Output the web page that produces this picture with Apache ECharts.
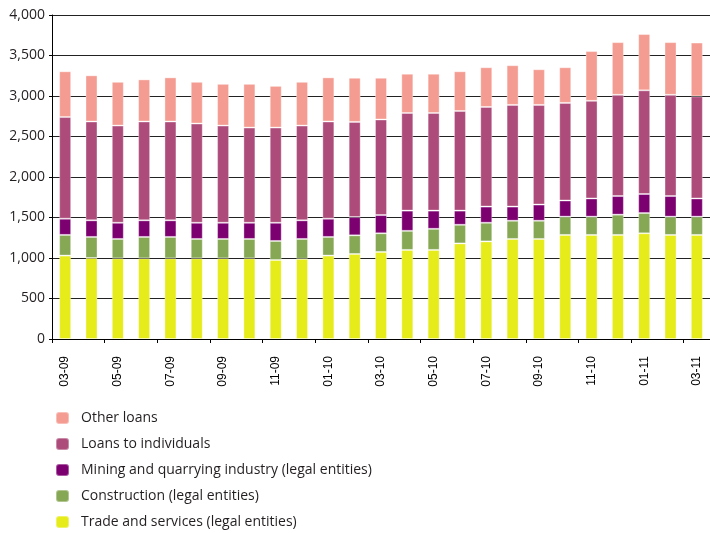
<!DOCTYPE html>
<html>
<head>
<meta charset="utf-8">
<script src="https://cdn.jsdelivr.net/npm/echarts@6/dist/echarts.min.js"></script>
<style>html,body{margin:0;padding:0;background:#fff}#c{width:710px;height:533px}</style>
</head>
<body>
<div id="c"></div>
<script>
var categories = ['03-09','04-09','05-09','06-09','07-09','08-09','09-09','10-09','11-09','12-09','01-10','02-10','03-10','04-10','05-10','06-10','07-10','08-10','09-10','10-10','11-10','12-10','01-11','02-11','03-11'];
var tradeServices = [1030,1000,995,995,995,995,995,995,975,990,1030,1050,1075,1100,1100,1180,1205,1235,1235,1285,1285,1285,1305,1285,1285];
var construction = [255,260,240,265,265,240,240,240,235,245,230,230,230,235,260,230,230,225,225,225,225,250,250,225,225];
var mining = [200,205,200,205,205,200,200,200,225,230,225,225,225,250,225,175,200,175,200,200,225,230,235,255,225];
var individuals = [1255,1220,1200,1220,1220,1225,1200,1175,1175,1170,1200,1175,1180,1205,1205,1230,1230,1255,1230,1205,1205,1250,1280,1250,1260];
var otherLoans = [565,570,540,520,545,515,515,540,515,540,545,545,515,485,485,490,490,490,440,440,615,650,695,650,665];
var yTicks = [0,500,1000,1500,2000,2500,3000,3500,4000];

var names = ['Trade and services (legal entities)','Construction (legal entities)','Mining and quarrying industry (legal entities)','Loans to individuals','Other loans'];
var colors = ['#E6EB1A','#86A753','#7D0070','#AD4C7A','#F49C91'];
var datas = [tradeServices, construction, mining, individuals, otherLoans];

var series = datas.map(function(d,i){
  return {
    name: names[i], type: 'bar', stack: 'total', data: d, barWidth: 12,
    itemStyle: {color: colors[i], borderColor: 'rgba(255,255,255,0.35)', borderWidth: 1},
    emphasis: {disabled: true}
  };
});

var chart = echarts.init(document.getElementById('c'), null, {renderer:'canvas'});
chart.setOption({
  animation: false,
  color: colors,
  grid: {left: 52, right: -3, top: 15, bottom: 194},
  legend: {
    orient: 'vertical', left: 55, top: 411, width: 400, height: 150, padding: 0,
    itemWidth: 13, itemHeight: 12, itemGap: 12,
    data: names.slice().reverse(),
    textStyle: {fontFamily: 'Open Sans', fontSize: 14, color: '#231f20', padding: [0,0,0,7]},
    selectedMode: false
  },
  xAxis: {
    type: 'category', data: categories, boundaryGap: true,
    axisLine: {lineStyle: {color: '#000', width: 1}},
    axisTick: {show: true, interval: 1, length: 4, lineStyle: {color: '#000'}},
    axisLabel: {interval: 1, rotate: 90, margin: 17, fontFamily: 'Liberation Sans', fontSize: 12, color: '#000'}
  },
  yAxis: {
    type: 'value', min: yTicks[0], max: yTicks[yTicks.length-1], interval: 500,
    axisLine: {show: true, lineStyle: {color: '#000'}},
    axisTick: {show: true, length: 3, lineStyle: {color: '#000'}},
    splitLine: {lineStyle: {color: '#222', width: 1}},
    axisLabel: {fontFamily: 'Open Sans', fontSize: 14, color: '#231f20', margin: 7,
      formatter: function(v){ return v.toLocaleString('en-US'); }}
  },
  series: series
});
</script>
</body>
</html>
